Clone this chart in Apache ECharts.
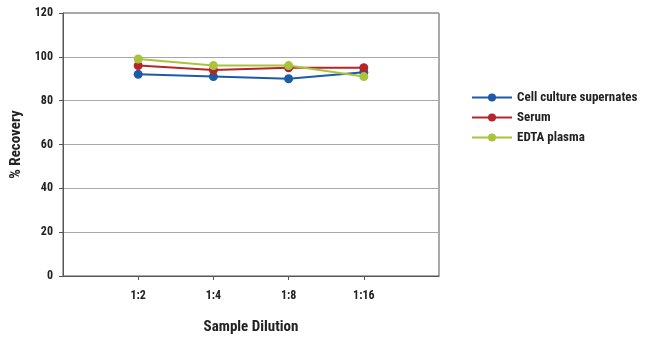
<!DOCTYPE html>
<html>
<head>
<meta charset="utf-8">
<script src="https://cdn.jsdelivr.net/npm/echarts@6/dist/echarts.min.js"></script>
<style>html,body{margin:0;padding:0;background:#fff}#c{width:650px;height:341px}</style>
</head>
<body>
<div id="c"></div>
<script>
const categories = ['', '1:2', '1:4', '1:8', '1:16', ''];
const cellCulture = [null, 92, 91, 90, 93, null];
const serum = [null, 96, 94, 95, 95, null];
const edtaPlasma = [null, 99, 96, 96, 91, null];
const yTicks = { min: 0, max: 120, interval: 20 };

const font = '"Liberation Sans Narrow", "Roboto Condensed", "DejaVu Sans Condensed", Roboto, sans-serif';
const chart = echarts.init(document.getElementById('c'), null, { renderer: 'canvas' });
function mk(name, data, color) {
  return {
    name, type: 'line', data, color,
    symbol: 'circle', symbolSize: 9, showSymbol: true,
    lineStyle: { width: 2, color },
    itemStyle: { color },
    connectNulls: false, animation: false, z: 3
  };
}
chart.setOption({
  animation: false,
  textStyle: { fontFamily: font },
  grid: { left: 63, right: 211, top: 13, bottom: 65, show: true, borderColor: '#555', borderWidth: 1 },
  legend: {
    orient: 'vertical', left: 466, top: 86,
    itemWidth: 40, itemHeight: 10, itemGap: 7,
    textStyle: { fontFamily: font, fontWeight: 'bold', fontSize: 13, color: '#222' },
    data: ['Cell culture supernates', 'Serum', 'EDTA plasma']
  },
  xAxis: {
    type: 'category', data: categories, boundaryGap: false,
    name: 'Sample Dilution', nameLocation: 'middle', nameGap: 44,
    nameTextStyle: { fontFamily: font, fontWeight: 'bold', fontSize: 15, color: '#222' },
    axisLine: { lineStyle: { color: '#555', width: 1 } },
    axisTick: { show: true, length: 4, interval: (i, v) => v !== '', lineStyle: { color: '#555' } },
    axisLabel: { interval: 0, margin: 14, fontFamily: font, fontWeight: 'bold', fontSize: 12, color: '#222' },
    splitLine: { show: false }
  },
  yAxis: {
    type: 'value', min: yTicks.min, max: yTicks.max, interval: yTicks.interval,
    name: '% Recovery', nameLocation: 'middle', nameGap: 36,
    nameTextStyle: { fontFamily: font, fontWeight: 'bold', fontSize: 15, color: '#222' },
    axisLine: { show: true, lineStyle: { color: '#555', width: 1 } },
    axisTick: { show: true, length: 4, lineStyle: { color: '#555' } },
    axisLabel: { margin: 10, fontFamily: font, fontWeight: 'bold', fontSize: 12, color: '#222' },
    splitLine: { show: true, lineStyle: { color: '#a8a8a8', width: 1 } }
  },
  series: [
    mk('Cell culture supernates', cellCulture, '#1f5aa6'),
    mk('Serum', serum, '#b5262a'),
    mk('EDTA plasma', edtaPlasma, '#a9c43c')
  ]
});
</script>
</body>
</html>
